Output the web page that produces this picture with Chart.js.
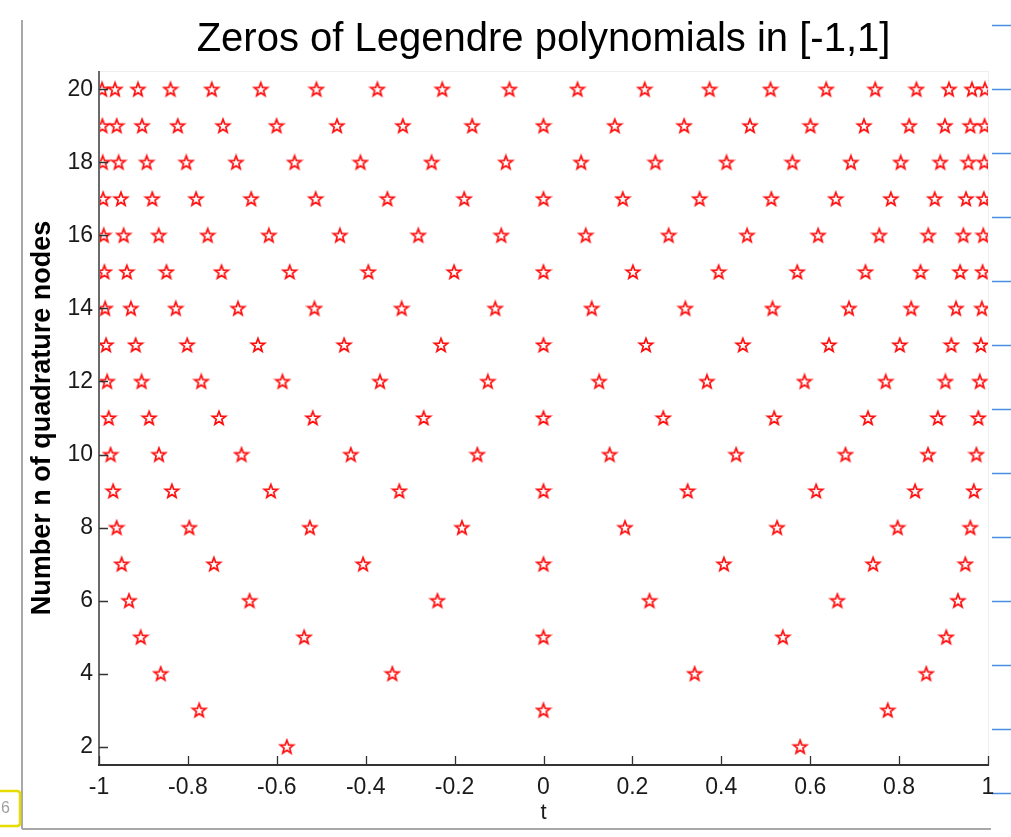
<!DOCTYPE html>
<html>
<head>
<meta charset="utf-8">
<script src="https://cdn.jsdelivr.net/npm/chart.js@4/dist/chart.umd.min.js"></script>
<style>
  html, body { margin: 0; padding: 0; background: #ffffff; }
  #wrap { width: 1011px; height: 837px; position: relative; }
</style>
</head>
<body>
<div id="wrap"><canvas id="c" width="1011" height="837"></canvas></div>
<script>
// Non-negative zeros of the Legendre polynomial P_n; nodes are symmetric about 0
const nodesN2  = [0.5774];
const nodesN3  = [0, 0.7746];
const nodesN4  = [0.3400, 0.8611];
const nodesN5  = [0, 0.5385, 0.9062];
const nodesN6  = [0.2386, 0.6612, 0.9325];
const nodesN7  = [0, 0.4058, 0.7415, 0.9491];
const nodesN8  = [0.1834, 0.5255, 0.7967, 0.9603];
const nodesN9  = [0, 0.3243, 0.6134, 0.8360, 0.9682];
const nodesN10 = [0.1489, 0.4334, 0.6794, 0.8651, 0.9739];
const nodesN11 = [0, 0.2695, 0.5191, 0.7301, 0.8871, 0.9782];
const nodesN12 = [0.1252, 0.3678, 0.5873, 0.7699, 0.9042, 0.9816];
const nodesN13 = [0, 0.2305, 0.4485, 0.6423, 0.8016, 0.9175, 0.9841];
const nodesN14 = [0.1085, 0.3191, 0.5152, 0.6872, 0.8272, 0.9281, 0.9862];
const nodesN15 = [0, 0.2011, 0.3941, 0.5709, 0.7244, 0.8482, 0.9373, 0.9879];
const nodesN16 = [0.0950, 0.2816, 0.4580, 0.6179, 0.7554, 0.8656, 0.9446, 0.9894];
const nodesN17 = [0, 0.1784, 0.3512, 0.5126, 0.6576, 0.7815, 0.8802, 0.9506, 0.9906];
const nodesN18 = [0.0847, 0.2518, 0.4117, 0.5600, 0.6916, 0.8037, 0.8926, 0.9558, 0.9916];
const nodesN19 = [0, 0.1603, 0.3165, 0.4645, 0.6005, 0.7209, 0.8227, 0.9031, 0.9602, 0.9924];
const nodesN20 = [0.0765, 0.2277, 0.3737, 0.5108, 0.6361, 0.7463, 0.8391, 0.9122, 0.9639, 0.9931];

const nValues = [2,3,4,5,6,7,8,9,10,11,12,13,14,15,16,17,18,19,20];
const nodeLists = [nodesN2,nodesN3,nodesN4,nodesN5,nodesN6,nodesN7,nodesN8,nodesN9,nodesN10,
  nodesN11,nodesN12,nodesN13,nodesN14,nodesN15,nodesN16,nodesN17,nodesN18,nodesN19,nodesN20];

const xTickValues = [-1,-0.8,-0.6,-0.4,-0.2,0,0.2,0.4,0.6,0.8,1];
const xTickLabels = ['-1','-0.8','-0.6','-0.4','-0.2','0','0.2','0.4','0.6','0.8','1'];
const yTickValues = [2,4,6,8,10,12,14,16,18,20];
const yTickLabels = ['2','4','6','8','10','12','14','16','18','20'];

const titleText = 'Zeros of Legendre polynomials in [-1,1]';
const xLabel = 't';
const yLabel = 'Number n of quadrature nodes';
const figureNumber = '6';

// build the point table
const points = [];
nValues.forEach((n, i) => {
  nodeLists[i].forEach(r => {
    points.push({x: r, y: n});
    if (r !== 0) points.push({x: -r, y: n});
  });
});

// pentagram outline marker
function makeStar(rOuter, color, lw) {
  const s = Math.ceil(2 * rOuter + 4);
  const cv = document.createElement('canvas');
  cv.width = s; cv.height = s;
  const g = cv.getContext('2d');
  const cx = s / 2, cy = s / 2 + 0.5;
  const rInner = rOuter * 0.42;
  g.beginPath();
  for (let k = 0; k < 10; k++) {
    const r = (k % 2 === 0) ? rOuter : rInner;
    const a = -Math.PI / 2 + k * Math.PI / 5;
    const px = cx + r * Math.cos(a), py = cy + r * Math.sin(a);
    if (k === 0) g.moveTo(px, py); else g.lineTo(px, py);
  }
  g.closePath();
  g.strokeStyle = color;
  g.lineWidth = lw;
  g.lineJoin = 'miter';
  g.stroke();
  return cv;
}
const starImg = makeStar(7, '#ff0d0d', 1.7);

const FONT = "'Liberation Sans', Arial, Helvetica, sans-serif";

const decor = {
  id: 'decor',
  beforeDraw(chart) {
    const ctx = chart.ctx;
    ctx.save();
    ctx.fillStyle = '#ffffff';
    ctx.fillRect(0, 0, chart.width, chart.height);
    // figure frame lines
    ctx.strokeStyle = '#a8a8a8';
    ctx.lineWidth = 2;
    ctx.beginPath();
    ctx.moveTo(22, 20); ctx.lineTo(22, 829);
    ctx.moveTo(22, 829); ctx.lineTo(991, 829);
    ctx.stroke();
    // blue marks at right edge
    ctx.strokeStyle = '#4a90e2';
    ctx.lineWidth = 1.5;
    ctx.beginPath();
    for (let k = 0; k < 13; k++) {
      const y = 25 + 64 * k + 0.5;
      ctx.moveTo(992, y); ctx.lineTo(1011, y);
    }
    ctx.stroke();
    // yellow box with number
    ctx.strokeStyle = '#e6dc00';
    ctx.lineWidth = 2.5;
    ctx.beginPath();
    ctx.moveTo(-2, 791); ctx.lineTo(17, 791);
    ctx.quadraticCurveTo(20, 791, 20, 794);
    ctx.lineTo(20, 823); ctx.quadraticCurveTo(20, 826, 17, 826);
    ctx.lineTo(-2, 826);
    ctx.stroke();
    ctx.fillStyle = '#a0a0a0';
    ctx.font = "16px " + FONT;
    ctx.textBaseline = 'middle';
    ctx.textAlign = 'left';
    ctx.fillText(figureNumber, 1, 809);
    // faint plot box (top/right)
    const a = chart.chartArea;
    ctx.strokeStyle = '#eeeeee';
    ctx.lineWidth = 1;
    ctx.beginPath();
    ctx.moveTo(a.left, a.top + 0.5); ctx.lineTo(a.right + 0.5, a.top + 0.5);
    ctx.lineTo(a.right + 0.5, a.bottom);
    ctx.stroke();
    ctx.restore();
  },
  afterDatasetsDraw(chart) {
    const ctx = chart.ctx;
    const a = chart.chartArea;
    const xs = chart.scales.x, ys = chart.scales.y;
    ctx.save();
    // axis lines
    ctx.strokeStyle = '#6a6a6a';
    ctx.lineWidth = 2;
    ctx.beginPath();
    ctx.moveTo(a.left, a.top); ctx.lineTo(a.left, a.bottom);
    ctx.stroke();
    ctx.strokeStyle = '#333333';
    ctx.beginPath();
    ctx.moveTo(a.left - 1, a.bottom); ctx.lineTo(a.right + 1, a.bottom);
    ctx.stroke();
    // inward ticks
    ctx.lineWidth = 1.3;
    ctx.strokeStyle = '#333333';
    ctx.beginPath();
    xTickValues.forEach(v => {
      const px = Math.round(xs.getPixelForValue(v)) + 0.5;
      ctx.moveTo(px, a.bottom); ctx.lineTo(px, a.bottom - 9);
    });
    yTickValues.forEach(v => {
      const py = Math.round(ys.getPixelForValue(v)) + 0.5;
      ctx.moveTo(a.left, py); ctx.lineTo(a.left + 9, py);
    });
    ctx.stroke();
    ctx.restore();
  }
};

new Chart(document.getElementById('c'), {
  type: 'scatter',
  data: {
    datasets: [{
      label: 'zeros',
      data: points,
      pointStyle: starImg,
      pointRadius: 7,
      pointHoverRadius: 7,
      borderColor: '#ff0d0d',
      backgroundColor: '#ff0d0d'
    }]
  },
  options: {
    responsive: false,
    animation: false,
    events: [],
    layout: { padding: { left: 0, right: 23, top: 0, bottom: 0 } },
    plugins: {
      legend: { display: false },
      tooltip: { enabled: false },
      title: {
        display: true,
        fullSize: false,
        text: titleText,
        color: '#000000',
        font: { family: FONT, size: 40, weight: 'normal', lineHeight: 1.2 },
        padding: { top: 16, bottom: 7 }
      }
    },
    scales: {
      x: {
        type: 'linear',
        min: -1, max: 1,
        grid: { display: false, drawTicks: false },
        border: { display: false },
        afterBuildTicks: s => { s.ticks = xTickValues.map(v => ({ value: v })); },
        afterFit: s => { s.height = 72; },
        ticks: {
          color: '#1a1a1a',
          font: { family: FONT, size: 23 },
          padding: 9,
          maxRotation: 0,
          autoSkip: false,
          callback: (v, i) => xTickLabels[i]
        },
        title: {
          display: true,
          text: xLabel,
          color: '#1a1a1a',
          font: { family: FONT, size: 22, weight: 'normal' },
          padding: { top: 0, bottom: 11 }
        }
      },
      y: {
        type: 'linear',
        min: 1.5, max: 20.5,
        grid: { display: false, drawTicks: false },
        border: { display: false },
        afterBuildTicks: s => { s.ticks = yTickValues.map(v => ({ value: v })); },
        afterFit: s => { s.width = 99; },
        ticks: {
          color: '#1a1a1a',
          font: { family: FONT, size: 23 },
          padding: 6,
          autoSkip: false,
          callback: (v, i) => yTickLabels[i]
        },
        title: {
          display: true,
          text: yLabel,
          color: '#000000',
          font: { family: FONT, size: 27, weight: 'bold' },
          padding: { top: 26, bottom: 0 }
        }
      }
    }
  },
  plugins: [decor]
});
</script>
</body>
</html>
